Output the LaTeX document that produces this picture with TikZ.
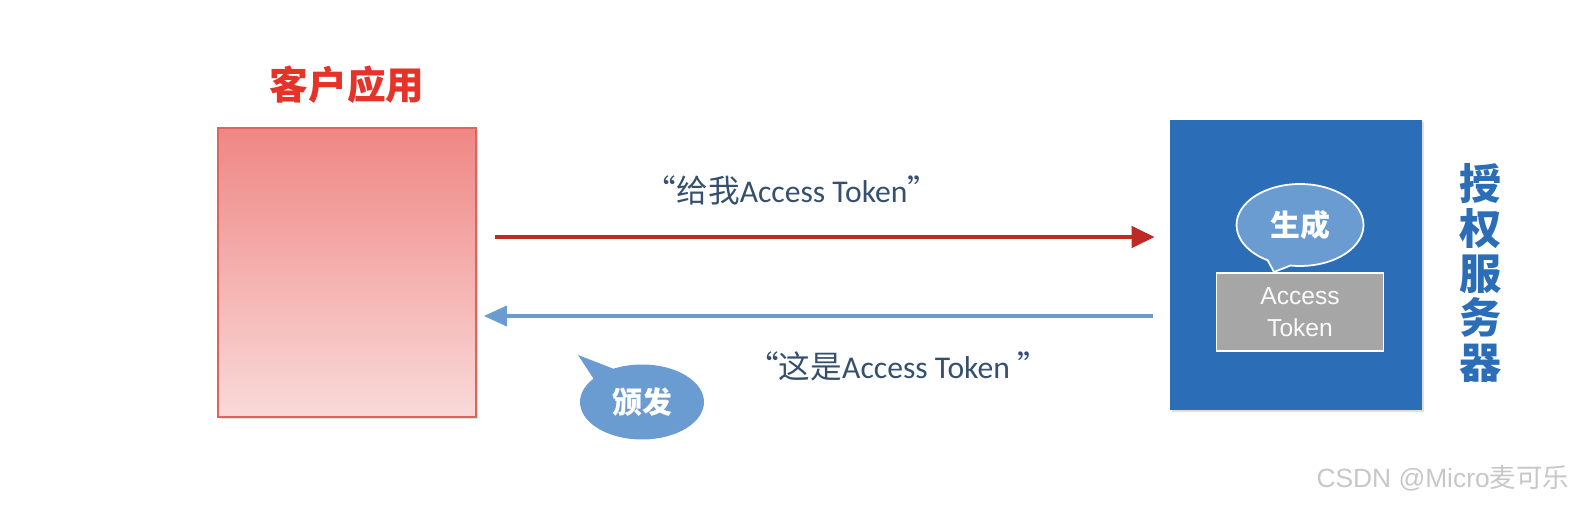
\documentclass[tikz,border=0pt]{standalone}
\usepackage{fontspec}
\setmainfont{Carlito}
\newfontfamily\cjk{Noto Sans CJK SC}
\newfontfamily\arialfont{Liberation Sans}
\usetikzlibrary{arrows.meta, shapes.geometric, shapes.callouts, shadows}
\definecolor{cred}{HTML}{E5332A}
\definecolor{cpinktop}{HTML}{EF8784}
\definecolor{cpinkbot}{HTML}{F9DAD9}
\definecolor{cpinkline}{HTML}{E0625F}
\definecolor{cblue}{HTML}{2B6DB6}
\definecolor{clight}{HTML}{6A9BD1}
\definecolor{cgrey}{HTML}{A6A6A6}
\definecolor{cink}{HTML}{34506E}
\definecolor{carrowred}{HTML}{BF2A26}
\tikzset{
  every picture/.style={x=0.02cm, y=-0.02cm},
  appbox/.style={draw=cpinkline, line width=1pt, top color=cpinktop, bottom color=cpinkbot,
    minimum width=5.16cm, minimum height=5.78cm, inner sep=0pt,
    drop shadow={shadow xshift=0.04cm, shadow yshift=-0.04cm, opacity=0.25}},
  srvbox/.style={fill=cblue, minimum width=5.04cm, minimum height=5.8cm, inner sep=0pt,
    drop shadow={shadow xshift=0.04cm, shadow yshift=-0.04cm, opacity=0.25}},
  tokbox/.style={draw=white, fill=cgrey, line width=1pt, minimum width=3.34cm, minimum height=1.56cm,
    inner sep=0pt, align=center, text=white!94!cgrey, font=\arialfont\fontsize{14}{18}\selectfont},
  bubble/.style={ellipse callout, fill=clight, text=white, inner sep=0pt,
    font=\cjk\bfseries\fontsize{17}{20}\selectfont},
  reqarrow/.style={-{Triangle[length=0.46cm, width=0.42cm]}, draw=carrowred, line width=2.8pt},
  resarrow/.style={-{Triangle[length=0.46cm, width=0.4cm]}, draw=clight, line width=2pt},
  msg/.style={text=cink, font=\fontsize{18}{20}\selectfont},
}
\begin{document}
\begin{tikzpicture}
  \useasboundingbox (0,0) rectangle (1596,510);
  % client side
  \node[text=cred, font=\cjk\bfseries\fontsize{22}{24}\selectfont] (apptitle) at (347,85) {客户应用};
  \node[appbox] (client) at (347,272.5) {};
  % authorization server
  \node[srvbox] (server) at (1296,265) {};
  \node[text=cblue, align=center, font=\cjk\bfseries\fontsize{24}{25.5}\selectfont] (srvtitle) at (1481,273) {授\\权\\服\\务\\器};
  \node[tokbox] (token) at (1300,312) {Access\\Token};
  \node[bubble, draw=white, line width=1pt, minimum width=2.54cm, minimum height=1.64cm,
    callout absolute pointer={(1274,272)}, callout pointer arc=22] (gen) at (1300,225) {生成};
  % messages
  \draw[reqarrow, shorten <=0.36cm, shorten >=0.3cm] (client.east |- 0,237) -- (server.west |- 0,237);
  \draw[resarrow, shorten <=0.34cm, shorten >=0.14cm] (server.west |- 0,316) -- (client.east |- 0,316);
  \node[msg] (reqmsg) at (792,190) {{\cjk “给我}Access Token{\cjk ”}};
  \node[msg] (resmsg) at (898,366) {{\cjk “这是}Access Token {\cjk ”}};
  \node[bubble, minimum width=2.48cm, minimum height=1.5cm,
    callout absolute pointer={(578,355)}, callout pointer arc=24] (issue) at (642,402) {颁发};
  \node[anchor=east, text=black!22, font=\arialfont\fontsize{15}{18}\selectfont] (mark) at (1575,478) {CSDN @Micro{\cjk 麦可乐}};
\end{tikzpicture}
\end{document}
